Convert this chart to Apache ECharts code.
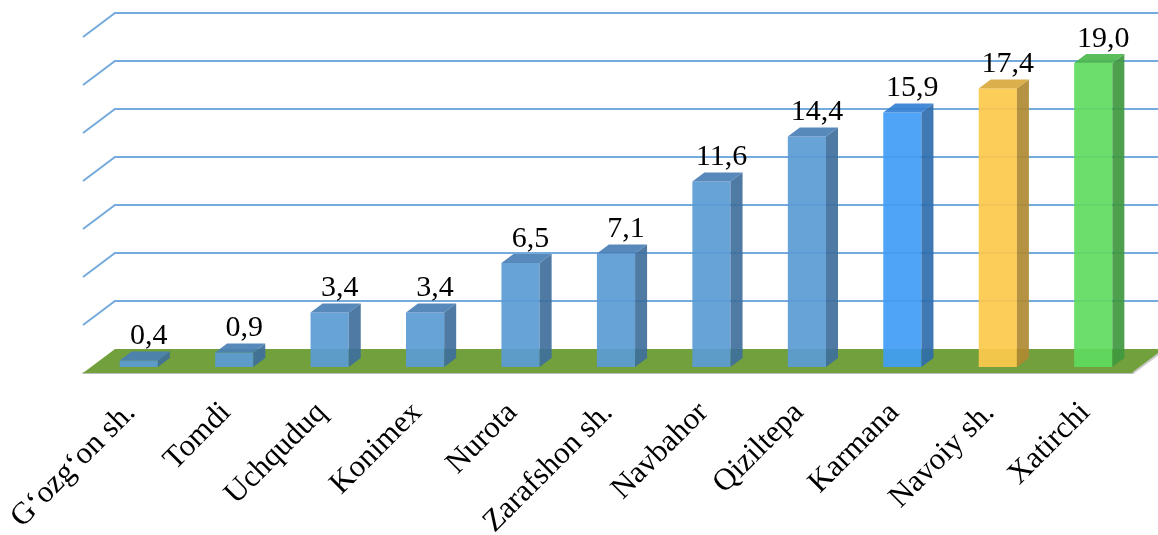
<!DOCTYPE html>
<html>
<head>
<meta charset="utf-8">
<script src="https://cdn.jsdelivr.net/npm/echarts@6/dist/echarts.min.js"></script>
<style>
html, body { margin: 0; padding: 0; background: #fff; }
#chart { width: 1158px; height: 535px; }
</style>
</head>
<body>
<div id="chart"></div>
<script>
var categories = ['G‘ozg‘on sh.', 'Tomdi', 'Uchquduq', 'Konimex', 'Nurota', 'Zarafshon sh.', 'Navbahor', 'Qiziltepa', 'Karmana', 'Navoiy sh.', 'Xatirchi'];
var values = [0.4, 0.9, 3.4, 3.4, 6.5, 7.1, 11.6, 14.4, 15.9, 17.4, 19.0];
var gridTicks = [0, 3, 6, 9, 12, 15, 18, 21];

// colours of the faces: front / side / top
var defaultColor = {front: '#5b9bd5', side: '#3f6f9c', top: '#4a7fb5'};
var specialColors = {
    'Karmana': {front: '#409cf6', side: '#2f6cac', top: '#3580d4'},
    'Navoiy sh.': {front: '#fdc94c', side: '#b08a32', top: '#d8a83c'},
    'Xatirchi': {front: '#5edb5f', side: '#3f983f', top: '#4cb94c'}
};

// pseudo 3d offsets, measured from the plane the bars stand in
var front = {dx: -8, dy: 6};   // front edge of the floor
var back = {dx: 24, dy: -18};  // back wall
var barDepth = {dx: 12, dy: -9};

var font = '"Liberation Serif", "Times New Roman", serif';

function fmt(v) {
    return v.toFixed(1).replace('.', ',');
}

function renderFloor(params, api) {
    var cs = params.coordSys;
    var y = api.coord([0, 0])[1];
    var l = cs.x, r = cs.x + cs.width;
    return {
        type: 'group',
        children: [{
            type: 'polygon',
            shape: {points: [[l + front.dx, y + front.dy], [r + front.dx, y + front.dy], [r + back.dx, y + back.dy], [l + back.dx, y + back.dy]]},
            style: {fill: '#71a03c'}
        }, {
            type: 'line',
            shape: {x1: r + front.dx, y1: y + front.dy, x2: r + back.dx, y2: y + back.dy},
            style: {stroke: '#c8c8c8', lineWidth: 2}
        }]
    };
}

function renderGridLine(params, api) {
    var cs = params.coordSys;
    var y = api.coord([0, api.value(1)])[1];
    return {
        type: 'polyline',
        shape: {points: [[cs.x + front.dx, y + front.dy], [cs.x + back.dx, y + back.dy], [cs.x + cs.width + back.dx, y + back.dy]]},
        style: {stroke: '#74aadc', lineWidth: 2, fill: null}
    };
}

function renderBar(params, api) {
    var i = api.value(0), v = api.value(1);
    var top = api.coord([i, v]);
    var base = api.coord([i, 0]);
    var w = api.size([1, 0])[0] * 0.4;
    var x0 = top[0] - w / 2, x1 = top[0] + w / 2;
    var c = specialColors[categories[i]] || defaultColor;
    var d = barDepth;
    return {
        type: 'group',
        children: [{
            type: 'rect',
            shape: {x: x0, y: top[1], width: w, height: base[1] - top[1]},
            style: {fill: c.front, opacity: 0.92}
        }, {
            type: 'polygon',
            shape: {points: [[x1, top[1]], [x1 + d.dx, top[1] + d.dy], [x1 + d.dx, base[1] + d.dy], [x1, base[1]]]},
            style: {fill: c.side, opacity: 0.92}
        }, {
            type: 'polygon',
            shape: {points: [[x0, top[1]], [x0 + d.dx, top[1] + d.dy], [x1 + d.dx, top[1] + d.dy], [x1, top[1]]]},
            style: {fill: c.top, opacity: 0.92}
        }, {
            type: 'text',
            x: top[0] + 10,
            y: top[1] - 9,
            style: {text: fmt(v), font: '30px ' + font, fill: '#000', align: 'center', verticalAlign: 'bottom'}
        }]
    };
}

var myChart = echarts.init(document.getElementById('chart'));
var option = {
    animation: false,
    grid: [
        // plane the bars stand in
        {left: 91, right: 17, top: 31, bottom: 168, outerBoundsMode: 'none'},
        // front edge of the floor, carries the category axis
        {left: 83, right: 25, top: 31, bottom: 162, outerBoundsMode: 'none'}
    ],
    xAxis: [{
        type: 'category',
        gridIndex: 0,
        data: categories,
        show: false
    }, {
        type: 'category',
        gridIndex: 1,
        data: categories,
        axisLine: {lineStyle: {color: '#a6a6a6', width: 1.5}},
        axisTick: {length: 10, lineStyle: {color: '#a6a6a6', width: 1.5}},
        axisLabel: {
            interval: 0,
            rotate: 45,
            margin: 35,
            color: '#000',
            fontSize: 31,
            fontFamily: font
        }
    }],
    yAxis: [{
        type: 'value',
        gridIndex: 0,
        min: gridTicks[0],
        max: gridTicks[gridTicks.length - 1],
        interval: gridTicks[1] - gridTicks[0],
        show: false
    }, {
        type: 'value',
        gridIndex: 1,
        show: false
    }],
    series: [{
        type: 'custom',
        xAxisIndex: 0,
        yAxisIndex: 0,
        renderItem: renderFloor,
        data: [[0, 0]],
        silent: true
    }, {
        type: 'custom',
        xAxisIndex: 0,
        yAxisIndex: 0,
        renderItem: renderGridLine,
        data: gridTicks.slice(1).map(function (t) { return [0, t]; }),
        silent: true
    }, {
        type: 'custom',
        xAxisIndex: 0,
        yAxisIndex: 0,
        renderItem: renderBar,
        data: values.map(function (v, i) { return [i, v]; })
    }]
};
myChart.setOption(option);
</script>
</body>
</html>
